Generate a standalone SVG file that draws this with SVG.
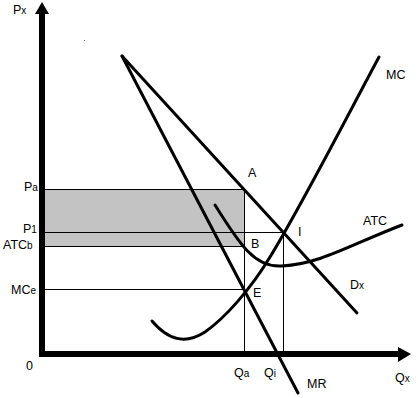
<svg xmlns="http://www.w3.org/2000/svg" width="418" height="398" viewBox="0 0 418 398">
<style>
text{font-family:"Liberation Sans",Arial,sans-serif;font-size:12.5px;fill:#000}
.s{font-size:10px}
.thin{stroke:#000;stroke-width:1;fill:none}
.curve{stroke:#000;stroke-width:3;fill:none;stroke-linecap:round}
</style>
<rect width="418" height="398" fill="#fff"/>
<g id="shade"><rect x="42" y="189" width="202" height="57" fill="#c3c3c3"/></g>
<g id="connectors">
<line class="thin" x1="42" y1="189.5" x2="244" y2="189.5"/>
<line class="thin" x1="42" y1="232.5" x2="283" y2="232.5"/>
<line class="thin" x1="42" y1="246.5" x2="244" y2="246.5"/>
<line class="thin" x1="42" y1="289.5" x2="244" y2="289.5"/>
<line class="thin" x1="244.5" y1="189" x2="244.5" y2="354"/>
<line class="thin" x1="283.5" y1="232" x2="283.5" y2="354"/>
<line class="curve" x1="122" y1="56" x2="357" y2="313"/>
<line class="curve" x1="122" y1="56" x2="298" y2="393"/>
<path class="curve" d="M152,321 C168,340 185,345 205,332 C225,318 250,290 270,257 C300,208 340,130 379,57"/>
<path class="curve" d="M215,205 C240,245 255,268 282,266 C320,264 350,245 402,225"/>
</g>
<g id="axes">
<line x1="42" y1="12" x2="42" y2="357" stroke="#000" stroke-width="6"/>
<polygon points="42,2 35,14 49,14" fill="#000"/>
<line x1="39" y1="354" x2="399" y2="354" stroke="#000" stroke-width="6"/>
<polygon points="411,354 398,347 398,362" fill="#000"/>
<rect x="84" y="40" width="1" height="1" fill="#666"/>
</g>
<g id="labels">
<text x="13" y="14">P<tspan class="s">x</tspan></text>
<text x="24" y="191">P<tspan class="s">a</tspan></text>
<text x="23" y="233">P<tspan class="s">1</tspan></text>
<text x="3" y="249">ATC<tspan class="s">b</tspan></text>
<text x="11" y="294">MC<tspan class="s">e</tspan></text>
<text x="26" y="370">0</text>
<text x="234" y="377">Q<tspan class="s">a</tspan></text>
<text x="264" y="377">Q<tspan class="s">i</tspan></text>
<text x="395" y="382">Q<tspan class="s">x</tspan></text>
<text x="307" y="388">MR</text>
<text x="248" y="177">A</text>
<text x="251" y="248">B</text>
<text x="298" y="236">I</text>
<text x="253" y="297">E</text>
<text x="350" y="289">D<tspan class="s">x</tspan></text>
<text x="363" y="225">ATC</text>
<text x="386" y="79">MC</text>
</g>
</svg>
